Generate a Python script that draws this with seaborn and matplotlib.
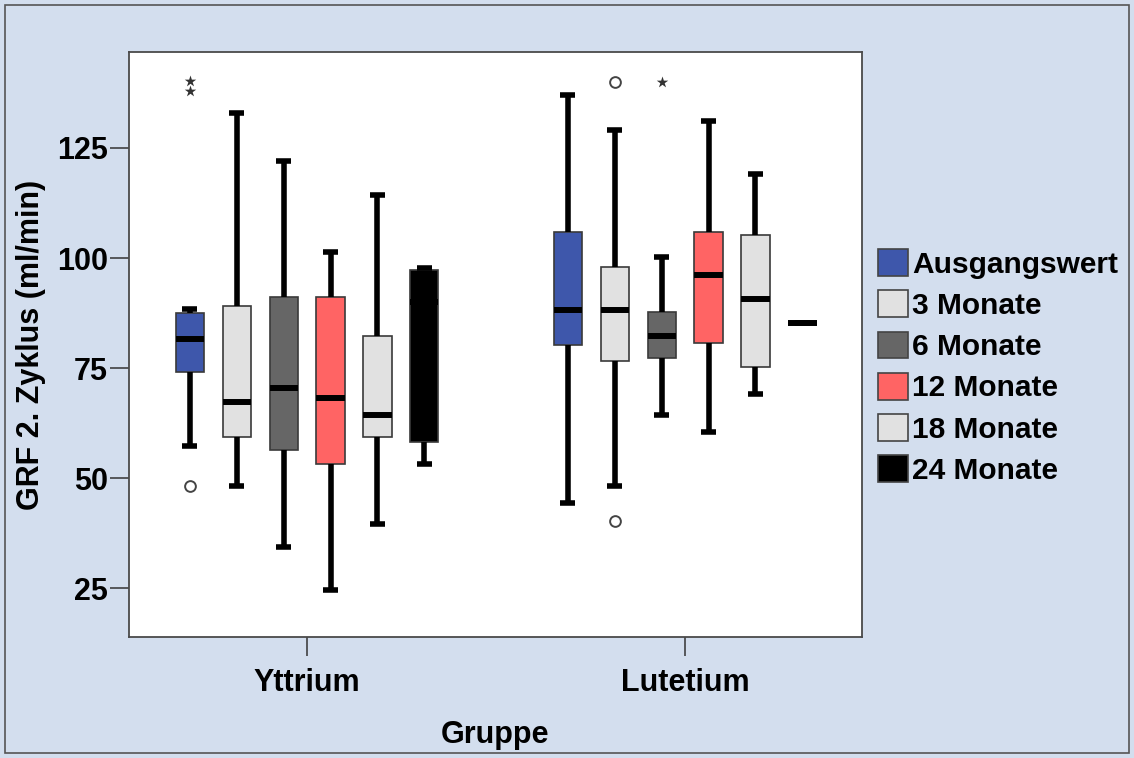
import numpy as np
import pandas as pd
import matplotlib
matplotlib.use("Agg")
import matplotlib.pyplot as plt
from matplotlib.patches import Patch, Rectangle
import seaborn as sns

# ---------------- data ----------------
groups = ["Yttrium", "Lutetium"]
times = ["Ausgangswert", "3 Monate", "6 Monate", "12 Monate", "18 Monate", "24 Monate"]
colors = ["#3E57AB", "#E1E1E1", "#666666", "#FF6464", "#E1E1E1", "#000000"]

# five-number summaries per time point: lower whisker, Q1, median, Q3, upper whisker
yttrium_low = [57.2, 48.3, 34.4, 24.5, 39.5, 53.3]
yttrium_q1 = [74.2, 59.4, 56.4, 53.3, 59.4, 58.3]
yttrium_med = [81.6, 67.3, 70.4, 68.3, 64.3, 90.0]
yttrium_q3 = [87.6, 89.2, 91.1, 91.1, 82.3, 97.3]
yttrium_high = [88.5, 133.0, 122.1, 101.3, 114.2, 97.8]

lutetium_low = [44.4, 48.3, 64.3, 60.4, 69.2, 85.2]
lutetium_q1 = [80.2, 76.7, 77.2, 80.8, 75.3, 85.2]
lutetium_med = [88.2, 88.2, 82.3, 96.1, 90.7, 85.2]
lutetium_q3 = [106.0, 98.0, 87.7, 106.0, 105.2, 85.2]
lutetium_high = [137.0, 129.1, 100.2, 131.1, 119.1, 85.2]

# outliers (circles) and extreme values (stars)
out_group = ["Yttrium", "Yttrium", "Yttrium", "Lutetium", "Lutetium", "Lutetium"]
out_time = ["Ausgangswert", "Ausgangswert", "Ausgangswert", "3 Monate", "3 Monate", "6 Monate"]
out_value = [48.3, 138.0, 140.2, 139.9, 40.3, 139.9]
out_kind = ["circle", "star", "star", "circle", "circle", "star"]

y_ticks = [25, 50, 75, 100, 125]

# ---------------- build long table ----------------
rows = []
summ = {
    "Yttrium": [yttrium_low, yttrium_q1, yttrium_med, yttrium_q3, yttrium_high],
    "Lutetium": [lutetium_low, lutetium_q1, lutetium_med, lutetium_q3, lutetium_high],
}
for g in groups:
    for i, t in enumerate(times):
        for arr in summ[g]:
            rows.append({"Gruppe": g, "Zeitpunkt": t, "GRF": arr[i]})
df = pd.DataFrame(rows)

# ---------------- style ----------------
sns.set_theme(style="white")
plt.rcParams["font.family"] = ["Liberation Sans", "DejaVu Sans"]
plt.rcParams["font.weight"] = "bold"
plt.rcParams["text.color"] = "black"

bg = "#D3DEEE"
W, H = 1134, 758
fig = plt.figure(figsize=(W / 100, H / 100), dpi=100, facecolor=bg)
ax = fig.add_axes([129 / W, 1 - 637 / H, (862 - 129) / W, (637 - 52) / H])
ax.set_facecolor("white")

box_width = 0.745
sns.boxplot(
    data=df, x="Gruppe", y="GRF", hue="Zeitpunkt",
    order=groups, hue_order=times, palette=colors, saturation=1,
    width=box_width, gap=0.4, whis=np.inf, showfliers=False,
    linecolor="#3a3a3a", linewidth=1.2, legend=False, ax=ax,
    whiskerprops=dict(color="black", linewidth=4.0),
    capprops=dict(color="black", linewidth=4.0, solid_capstyle="butt"),
    medianprops=dict(color="black", linewidth=4.3),
    capwidths=0.04,
)

# outliers at dodged positions
n = len(times)
slot = box_width / n
ox = [groups.index(g) + (times.index(t) - (n - 1) / 2) * slot for g, t in zip(out_group, out_time)]
for x, v, k in zip(ox, out_value, out_kind):
    if k == "circle":
        ax.scatter([x], [v], s=60, marker="o", facecolor="white", edgecolor="#444444", linewidth=1.4, zorder=5)
    else:
        ax.scatter([x], [v], s=75, marker="*", color="#333333", linewidth=0, zorder=5)

ax.set_xlim(-0.471, 1.468)
ax.set_ylim(13.9, 146.8)
ax.set_yticks(y_ticks)
ax.set_yticklabels([str(t) for t in y_ticks])

for s in ax.spines.values():
    s.set_visible(True)
    s.set_color("#4a4a4a")
    s.set_linewidth(1.3)

ax.tick_params(axis="both", bottom=True, left=True, length=14, width=1.1,
               color="#333333", direction="out", labelsize=22, labelcolor="black")
ax.tick_params(axis="x", pad=8)
ax.tick_params(axis="y", pad=1)
for lab in ax.get_xticklabels() + ax.get_yticklabels():
    lab.set_fontweight("bold")

ax.set_xlabel("Gruppe", fontsize=22, fontweight="bold", labelpad=16, color="black")
ax.set_ylabel("GRF 2. Zyklus (ml/min)", fontsize=22, fontweight="bold", labelpad=8, color="black")

# legend
handles = [Patch(facecolor=c, edgecolor="#444444", linewidth=1.2) for c in colors]
fig.legend(handles, times, loc="center left", bbox_to_anchor=(878 / W, 1 - 367 / H),
           frameon=False, prop=dict(size=21.5, weight="bold"), labelcolor="black",
           handlelength=1.0, handleheight=1.0, handletextpad=0.15,
           labelspacing=0.39, borderpad=0, borderaxespad=0)

# outer border of the chart
fig.patches.append(Rectangle((5 / W, 5 / H), (W - 10) / W, (H - 10) / H,
                             transform=fig.transFigure, fill=False,
                             edgecolor="#555555", linewidth=1.2))

fig.savefig("out.png", dpi=100, facecolor=bg)
